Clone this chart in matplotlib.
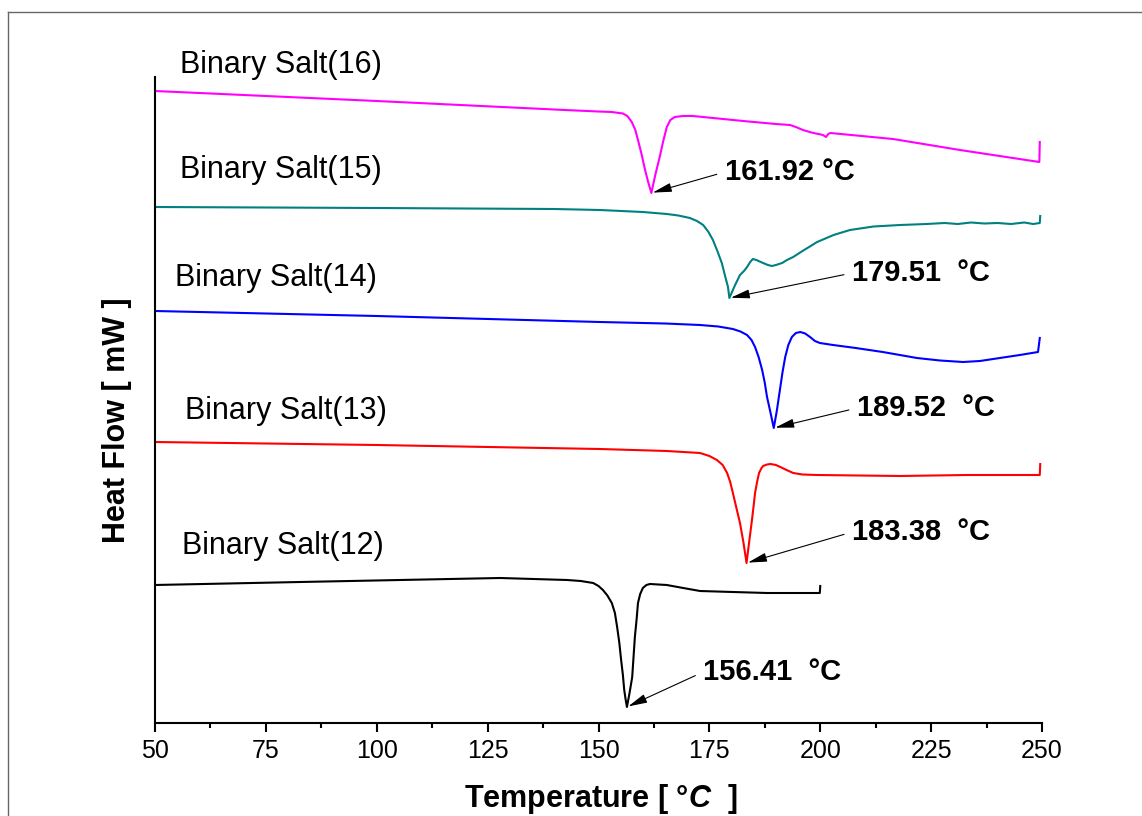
import matplotlib
matplotlib.use("Agg")
import matplotlib.pyplot as plt
from matplotlib.lines import Line2D

plt.rcParams['font.family'] = ['Liberation Sans', 'DejaVu Sans']
plt.rcParams['mathtext.fontset'] = 'custom'
plt.rcParams['mathtext.rm'] = 'Liberation Sans:bold'
plt.rcParams['mathtext.it'] = 'Liberation Sans:italic:bold'
plt.rcParams['mathtext.bf'] = 'Liberation Sans:bold'

# DSC traces (temperature in °C, heat flow in offset arbitrary units)
t16 = [50, 100, 142.4, 150, 153, 155.5, 156.5, 157.5, 158.3, 158.9, 159.7, 160.5, 161.2,
       161.92, 162.8, 163.8, 164.6, 165.4, 166.2, 167.2, 169, 171.3, 182.6, 190, 193.2,
       194.5, 196.1, 198, 200.6, 201.3, 201.8, 202.3, 216.4, 231.5, 249.4, 249.5]
hf16 = [632, 622, 613, 611.5, 611, 609.5, 607, 601, 593, 583, 569, 553, 541,
        530, 548, 566, 582, 596, 603, 606, 607, 607, 602, 599, 598,
        596, 593, 590.5, 588, 586, 589, 590, 584, 573, 561, 581]

t15 = [50, 100, 140, 150.3, 160, 165.4, 168, 170.6, 172.2, 173.6, 174.8, 175.8, 176.8,
       177.8, 178.6, 179.2, 179.51, 180.2, 180.8, 181.9, 182.8, 183.5, 184.2, 184.8,
       185.6, 187.1, 188.2, 189.1, 190, 191.4, 192.5, 193.9, 196, 199.3, 203, 206.7,
       212, 218, 224, 228, 231, 234, 237, 240, 243, 246, 248, 249.5, 249.6]
hf15 = [516, 515, 514, 513, 511, 509, 507.5, 505, 502, 498, 491, 483, 472,
        460, 446, 436, 425, 432, 438, 448, 452, 456, 461, 464,
        463, 460, 458, 457, 458, 460, 463, 466, 472, 481, 488, 493,
        496.5, 498, 499, 500, 499, 500.5, 499.5, 500, 499, 500.5, 499, 500, 507]

t14 = [50, 100, 150.3, 165, 172.9, 177, 180.3, 182, 183.5, 184.5, 185.3, 186.1, 186.9,
       187.5, 188.0, 188.8, 189.52, 190.2, 190.9, 191.5, 192.1, 192.8, 193.6, 194.5,
       195.5, 196.6, 197.7, 198.8, 199.9, 202.9, 208, 214.1, 221.8, 227, 232.2, 236,
       240.5, 245, 249.1, 249.5]
hf14 = [412, 407, 401, 399.5, 398, 396.5, 394, 391.5, 388, 383, 376, 366, 353,
        340, 326, 310, 295, 312, 333, 351, 366, 378, 386, 390,
        391, 389.5, 386, 382, 380, 378, 375, 371, 365, 362.5, 361, 362,
        365, 368, 371, 385]

t13 = [50, 100, 150.3, 165.4, 172.9, 175, 176.7, 178, 179.0, 179.7, 180.3, 181.1, 181.9,
       182.7, 183.38, 184, 184.6, 185.0, 185.3, 185.8, 186.2, 186.7, 187.1, 188, 188.8,
       190, 191.0, 192.4, 193.9, 196, 199.3, 218, 233.1, 249.5, 249.6]
hf13 = [281, 278, 274, 272, 270, 267, 263, 258, 250, 241, 230, 215, 200,
        180, 160, 182, 203, 218, 230, 242, 250, 254.5, 257, 258.5, 259,
        258, 256, 253, 250, 248.5, 248, 247, 248, 248, 259]

t12 = [50, 82.7, 127.8, 142.9, 146, 148.8, 150, 151.0, 152, 153.0, 153.7, 154.2, 154.7,
       155.1, 155.5, 155.8, 156.1, 156.41, 157, 157.6, 157.9, 158.2, 158.6, 158.9, 159.4,
       160.0, 160.8, 161.6, 163.5, 165.4, 169.1, 172.9, 180.3, 188.0, 199.3, 199.9, 200.0]
hf12 = [138, 141, 145, 143, 142, 140, 137, 133, 127.5, 120, 110, 96, 80,
        63, 48, 33, 24, 16, 30, 46, 66, 86, 104, 120, 129,
        135, 138, 139, 138.5, 138, 135, 132, 131, 130, 130, 130, 137]

names = ['Binary Salt(16)', 'Binary Salt(15)', 'Binary Salt(14)',
         'Binary Salt(13)', 'Binary Salt(12)']
colors = ['#ff00ff', '#008080', '#0000ff', '#ff0000', '#000000']
peak_t = [161.92, 179.51, 189.52, 183.38, 156.41]
peak_labels = ['161.92 °C', '179.51  °C', '189.52  °C', '183.38  °C', '156.41  °C']

series_t = [t16, t15, t14, t13, t12]
series_hf = [hf16, hf15, hf14, hf13, hf12]

# label placement (temperature, heat flow)
name_pos = [(55.6, 658), (55.6, 553), (54.5, 445), (56.8, 312), (56.1, 177)]
peak_text_pos = [(178.5, 551), (207.2, 450), (208.3, 315), (207.2, 191), (173.6, 51)]

fig = plt.figure(figsize=(11.42, 8.16), dpi=100)
ax = fig.add_axes([155 / 1142, 1 - 723 / 816, 887 / 1142, 646 / 816])

for t, hf, c in zip(series_t, series_hf, colors):
    ax.plot(t, hf, color=c, lw=1.5, solid_joinstyle='round')

for name, (x, y) in zip(names, name_pos):
    ax.text(x, y, name, fontsize=22, ha='left', va='center', clip_on=False)

for t, hf, pt, lab, (x, y) in zip(series_t, series_hf, peak_t, peak_labels, peak_text_pos):
    py = hf[t.index(pt)]
    ax.annotate(lab, xy=(pt, py), xytext=(x, y), fontsize=21, fontweight='bold',
                ha='left', va='center',
                arrowprops=dict(arrowstyle='-|>,head_length=0.55,head_width=0.13',
                                color='black', lw=0.8, relpos=(0, 0.5),
                                shrinkA=4, shrinkB=1))

ax.set_xlim(50, 250)
ax.set_ylim(0, 646)
ax.set_xticks([50, 75, 100, 125, 150, 175, 200, 225, 250])
ax.set_xticks([62.5, 87.5, 112.5, 137.5, 162.5, 187.5, 212.5, 237.5], minor=True)
ax.set_yticks([])
ax.tick_params(axis='x', which='major', direction='out', length=6.5, width=1.5,
               labelsize=18, pad=5)
ax.tick_params(axis='x', which='minor', direction='out', length=3.6, width=1.5)
for s in ['top', 'right']:
    ax.spines[s].set_visible(False)
for s in ['left', 'bottom']:
    ax.spines[s].set_linewidth(1.5)

ax.set_xlabel('Temperature [ °$\\mathit{C}$  ]', fontsize=22, fontweight='bold')
ax.xaxis.set_label_coords(0.503, -0.092)
ax.set_ylabel('Heat Flow [ mW ]', fontsize=22, fontweight='bold')
ax.yaxis.set_label_coords((132 - 155) / 887, 0.469)

# outer frame
fig.add_artist(Line2D([8 / 1142, 1.0], [1 - 12 / 816, 1 - 12 / 816],
                      transform=fig.transFigure, color='#666666', lw=1))
fig.add_artist(Line2D([8 / 1142, 8 / 1142], [0, 1 - 12 / 816],
                      transform=fig.transFigure, color='#666666', lw=1))

fig.savefig('out.png', dpi=100)
